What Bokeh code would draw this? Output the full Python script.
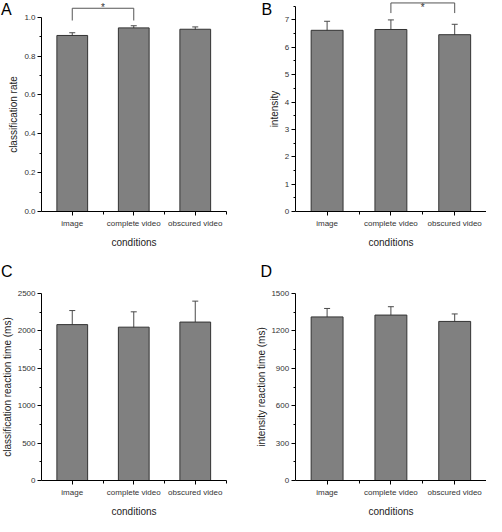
from bokeh.plotting import figure
from bokeh.models import Range1d, FixedTicker, Whisker, ColumnDataSource, TeeHead, PrintfTickFormatter
from bokeh.layouts import column, row
from bokeh.embed import file_html
from bokeh.resources import INLINE
from bokeh.core.properties import value

# ---------------- data ----------------
conditions = ["image", "complete video", "obscured video"]

class_rate = [0.906, 0.945, 0.938]
class_rate_err = [0.014, 0.011, 0.012]

intensity = [6.62, 6.65, 6.46]
intensity_err = [0.33, 0.35, 0.38]

class_rt = [2084, 2050, 2118]
class_rt_err = [188, 205, 280]

intensity_rt = [1312, 1327, 1276]
intensity_rt_err = [68, 67, 60]

ticks_A = [0.0, 0.2, 0.4, 0.6, 0.8, 1.0]
minor_A = [0.1, 0.3, 0.5, 0.7, 0.9]
ticks_B = [0, 1, 2, 3, 4, 5, 6, 7]
minor_B = [0.5, 1.5, 2.5, 3.5, 4.5, 5.5, 6.5, 7.5]
ticks_C = [0, 500, 1000, 1500, 2000, 2500]
minor_C = [250, 750, 1250, 1750, 2250]
ticks_D = [0, 300, 600, 900, 1200, 1500]
minor_D = [150, 450, 750, 1050, 1350]

# significance brackets: (from, to, bracket level, leg end level)
sig_A = ("image", "complete video", 1.046, 0.983)
sig_B = ("complete video", "obscured video", 7.62, 7.25)

FONT = "Liberation Sans"


def make_panel(letter, means, errs, ylabel, ticks, minor, bounds,
               width, height, zero_px, axis_px, ppx, ppy, letter_px, fmt=None, sig=None):
    """zero_px: y=0 position (px from figure top); axis_px: y-axis position (px from
    figure left); ppx: px per category; ppy: px per y unit."""
    n = len(conditions)
    xs = [i + 1 for i in range(n)]
    x0 = 0.5 - axis_px / ppx
    x1 = x0 + width / ppx
    y1 = zero_px / ppy
    y0 = -(height - zero_px) / ppy
    p = figure(width=width, height=height, output_backend="svg", toolbar_location=None,
               x_range=Range1d(x0, x1), y_range=Range1d(y0, y1),
               min_border_left=0, min_border_right=0, min_border_top=0, min_border_bottom=0)
    p.outline_line_color = None
    p.xgrid.visible = False
    p.ygrid.visible = False
    p.background_fill_color = "white"

    src = ColumnDataSource(dict(x=xs, top=means,
                                upper=[m + e for m, e in zip(means, errs)],
                                lower=[m - e for m, e in zip(means, errs)]))
    p.vbar(x="x", top="top", width=0.5, bottom=0, source=src,
           fill_color="#808080", line_color="#333333", line_width=1)
    w = Whisker(base="x", upper="upper", lower="lower", source=src,
                line_color="#4a4a4a", line_width=1,
                upper_head=TeeHead(size=6, line_color="#4a4a4a", line_width=1),
                lower_head=TeeHead(size=6, line_color="#4a4a4a", line_width=1))
    p.add_layout(w)

    for ax in (p.xaxis, p.yaxis):
        ax.axis_line_color = "black"
        ax.axis_line_width = 1
        ax.major_tick_line_color = "black"
        ax.minor_tick_line_color = "black"
        ax.major_tick_in = 0
        ax.minor_tick_in = 0
        ax.major_label_text_font = FONT
        ax.major_label_text_font_size = "8px"
        ax.major_label_text_color = "#333333"
        ax.axis_label_text_font = FONT
        ax.axis_label_text_font_size = "10px"
        ax.axis_label_text_font_style = "normal"
        ax.axis_label_text_color = "#222222"

    p.xaxis.fixed_location = 0
    p.xaxis.ticker = FixedTicker(ticks=xs, minor_ticks=[x + 0.5 for x in xs])
    p.xaxis.major_label_overrides = {x: c for x, c in zip(xs, conditions)}
    p.xaxis.major_tick_out = 4
    p.xaxis.minor_tick_out = 3
    p.xaxis.major_label_standoff = 3
    p.xaxis.axis_label = "conditions"
    p.xaxis.axis_label_standoff = 6
    p.xaxis.bounds = (0.5, n + 0.5)

    p.yaxis.fixed_location = 0.5
    p.yaxis.ticker = FixedTicker(ticks=ticks, minor_ticks=minor)
    p.yaxis.major_tick_out = 4
    p.yaxis.minor_tick_out = 2
    p.yaxis.major_label_standoff = 2
    p.yaxis.axis_label = ylabel
    p.yaxis.axis_label_standoff = 2
    p.yaxis.bounds = bounds
    if fmt is not None:
        p.yaxis.formatter = fmt

    if sig is not None:
        a, b, lvl, leg = sig
        xa = conditions.index(a) + 1
        xb = conditions.index(b) + 1
        p.line([xa, xa, xb, xb], [leg, lvl, lvl, leg], line_color="#555555", line_width=1)
        p.text(x=[(xa + xb) / 2], y=[y1 - 1 / ppy], text=["*"],
               text_align="center", text_baseline="top",
               text_font=value(FONT), text_font_size="10px", text_color="#333333")

    lx = x0 + letter_px[0] / ppx
    ly = y1 - letter_px[1] / ppy
    p.text(x=[lx], y=[ly], text=[letter], text_align="left", text_baseline="top",
           text_font=value(FONT), text_font_size="16px", text_color="black")
    return p


pA = make_panel("A", class_rate, class_rate_err, "classification rate",
                ticks_A, minor_A, (0, 1.0), 243, 250, 211, 41, 61.5, 194.3, (0.5, 0),
                fmt=PrintfTickFormatter(format="%.1f"), sig=sig_A)
pB = make_panel("B", intensity, intensity_err, "intensity",
                ticks_B, minor_B, (0, 7.5), 243, 250, 211, 51.7, 63.8, 27.37, (18, 0),
                sig=sig_B)
pC = make_panel("C", class_rt, class_rt_err, "classification reaction time (ms)",
                ticks_C, minor_C, (0, 2500), 243, 266, 230, 41, 61.5, 187 / 2500, (0.5, 12))
pD = make_panel("D", intensity_rt, intensity_rt_err, "intensity reaction time (ms)",
                ticks_D, minor_D, (0, 1500), 243, 266, 230, 51.7, 63.8, 187 / 1500, (17, 12))

layout = column(row(pA, pB), row(pC, pD))
open("out.html", "w").write(file_html(layout, INLINE))
